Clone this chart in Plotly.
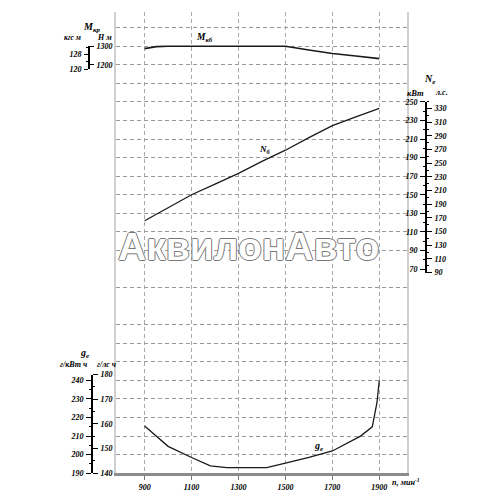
import plotly.graph_objects as go

# ---------------- data ----------------
rpm_torque = [900, 950, 1000, 1100, 1200, 1300, 1400, 1500, 1600, 1700, 1800, 1900]
torque_nm = [1287, 1298, 1300, 1300, 1300, 1300, 1300, 1300, 1280, 1261, 1247, 1233]

rpm_power = [900, 1000, 1100, 1200, 1300, 1400, 1500, 1600, 1700, 1800, 1900]
power_kw = [122, 136, 150, 161.5, 173, 186, 198, 211.5, 224.5, 234, 243]

rpm_fuel = [900, 1000, 1100, 1180, 1250, 1300, 1420, 1500, 1600, 1700, 1820, 1870, 1890, 1900]
fuel_g_kwh = [215.5, 204.5, 198.5, 194, 193, 193, 193, 195.5, 198.5, 202, 210, 215, 228, 240]

x_ticks = [900, 1100, 1300, 1500, 1700, 1900]
nm_ticks = [1200, 1300]
kgf_ticks = [120, 128]
kw_ticks = [70, 90, 110, 130, 150, 170, 190, 210, 230, 250]
hp_ticks = [90, 110, 130, 150, 170, 190, 210, 230, 250, 270, 290, 310, 330]
gkwh_ticks = [190, 200, 210, 220, 230, 240]
ghph_ticks = [140, 150, 160, 170, 180]

KW_TO_HP = 1.35962
NM_PER_KGF = 9.80665

# ---------------- geometry helpers ----------------
OFF = 8  # page body margin
W = H = 500 - 2 * OFF
BOTTOM_PX, TOP_PX = 483, 5
N_GRID = 25
STEP = (BOTTOM_PX - TOP_PX) / N_GRID
U_TOP = (BOTTOM_PX - OFF) / STEP  # visible top of the figure


def fx(px):
    return (px - OFF) / W


def fy(py):
    return 1 - (py - OFF) / H


def ufrac(u):
    # grid unit (0 = bottom) -> paper fraction
    return fy(BOTTOM_PX - u * STEP)


X_DOMAIN = [fx(116), fx(407)]
X_RANGE = [778, 2018]

serif = "Liberation Serif"
tickfont = dict(family=serif, size=8, color="black", style="italic", weight="bold")

fig = go.Figure()

# base grid subplot trace
fig.add_trace(go.Scatter(x=[None], y=[None], yaxis="y", showlegend=False, hoverinfo="skip"))
# dummy traces for the scale spines
for ya in ["y5", "y6", "y7", "y8", "y9", "y10"]:
    fig.add_trace(go.Scatter(x=[None], y=[None], xaxis="x2", yaxis=ya,
                             showlegend=False, hoverinfo="skip"))
# data traces
fig.add_trace(go.Scatter(x=rpm_torque, y=torque_nm, mode="lines", yaxis="y2",
                         line=dict(color="#1a1a1a", width=1.6), showlegend=False, hoverinfo="skip"))
fig.add_trace(go.Scatter(x=rpm_power, y=power_kw, mode="lines", yaxis="y3",
                         line=dict(color="#1a1a1a", width=1.3), showlegend=False, hoverinfo="skip"))
fig.add_trace(go.Scatter(x=rpm_fuel, y=fuel_g_kwh, mode="lines", yaxis="y4",
                         line=dict(color="#1a1a1a", width=1.3), showlegend=False, hoverinfo="skip"))

grid_units = [u for u in range(N_GRID + 1) if u not in (9, 11) and u <= U_TOP]

# value mappings (grid unit -> value)
tq_range = [1300 + (0 - 23) * 100, 1300 + (U_TOP - 23) * 100]
pw_range = [250 + (0 - 20) * 20, 250 + (U_TOP - 20) * 20]
fu_range = [190, 190 + U_TOP * 10]


def spine(rng, dom, side, pos, tickvals, minor_dtick, minor_tick0, ticklen=5):
    d = dict(domain=dom, range=rng, anchor="free", position=pos, side=side,
             showline=True, linecolor="black", linewidth=1.6,
             ticks="outside", ticklen=ticklen, tickwidth=1.4, tickcolor="black",
             tickmode="array", tickvals=tickvals, tickfont=tickfont,
             showgrid=False, zeroline=False, fixedrange=True, ticklabelstandoff=1)
    if minor_dtick:
        d["minor"] = dict(ticks="outside", ticklen=2.5, tickwidth=1.2, tickcolor="black",
                          dtick=minor_dtick, tick0=minor_tick0, showgrid=False)
    return d


# torque spine
nm_lo = 120 * NM_PER_KGF
u_lo = 23 + (nm_lo - 1300) / 100
tq_dom = [ufrac(u_lo), ufrac(23.005)]
nm_rng = [nm_lo, 1300.5]
kgf_rng = [120, 1300.5 / NM_PER_KGF]

# power spine
kw_lo = 90 / KW_TO_HP
pw_dom = [ufrac(20 + (kw_lo - 250) / 20), ufrac(20.01)]
kw_rng = [kw_lo, 250.2]
hp_rng = [90, 250.2 * KW_TO_HP]

# fuel spine
fu_top_u = (BOTTOM_PX - 381.3) / STEP
fu_dom = [ufrac(0), ufrac(fu_top_u)]
gk_rng = [189.95, 190 + fu_top_u * 10]
gh_rng = [139.95, 180.05]

fig.update_layout(
    width=W, height=H, margin=dict(l=0, r=0, t=0, b=0),
    paper_bgcolor="white", plot_bgcolor="rgba(0,0,0,0)", showlegend=False,
    xaxis=dict(domain=X_DOMAIN, range=X_RANGE, tickmode="array", tickvals=x_ticks,
               ticks="outside", ticklen=4, tickcolor="#777", tickwidth=1,
               showline=True, linecolor="#8c8c8c", linewidth=3,
               showgrid=True, gridcolor="#a8a8a8", gridwidth=1, griddash="4px,3px",
               zeroline=False, tickfont=tickfont, fixedrange=True, anchor="y"),
    xaxis2=dict(domain=X_DOMAIN, range=X_RANGE, visible=False, fixedrange=True),
    yaxis=dict(domain=[ufrac(0), 1], range=[0, U_TOP], tickmode="array",
               tickvals=grid_units, showticklabels=False, ticks="",
               showgrid=True, gridcolor="#9a9a9a", gridwidth=1, griddash="4px,3px",
               showline=True, linecolor="#d0d0d0", linewidth=1.5, mirror=True,
               zeroline=False, fixedrange=True),
    yaxis2=dict(overlaying="y", range=tq_range, visible=False, fixedrange=True),
    yaxis3=dict(overlaying="y", range=pw_range, visible=False, fixedrange=True),
    yaxis4=dict(overlaying="y", range=fu_range, visible=False, fixedrange=True),
    yaxis5=spine(nm_rng, tq_dom, "right", fx(89), nm_ticks, None, None, 4),
    yaxis6=spine(kgf_rng, tq_dom, "left", fx(89), kgf_ticks, 4, 0, 4),
    yaxis7=spine(kw_rng, pw_dom, "left", fx(426), kw_ticks, 10, 0),
    yaxis8=spine(hp_rng, pw_dom, "right", fx(426), hp_ticks, 10, 0),
    yaxis9=spine(gk_rng, fu_dom, "left", fx(92), gkwh_ticks, 5, 0),
    yaxis10=spine(gh_rng, fu_dom, "right", fx(92), ghph_ticks, 5, 0),
)


def lab(text, x, y, size=8, xanchor="center"):
    fig.add_annotation(text=text, x=fx(x), y=fy(y), xref="paper", yref="paper",
                       showarrow=False, xanchor=xanchor, yanchor="middle",
                       font=dict(family=serif, size=size, color="black",
                                 style="italic", weight="bold"))


# scale titles
lab("M<sub>кр</sub>", 91, 24, 10)
lab("кгс м", 72, 34, 7.5)
lab("Н м", 104, 34, 8)
lab("N<sub>е</sub>", 429, 78, 10)
lab("кВт", 415, 91, 8.5)
lab("л.с.", 441, 91, 8)
lab("g<sub>е</sub>", 84, 360, 10)
lab("г/кВт ч", 73, 371, 8)
lab("г/лс ч", 106, 371, 8)
lab("n, мин<sup>-1</sup>", 390, 492, 8, "left")

# curve labels (data coordinates)
fig.add_annotation(text="M<sub>кб</sub>", x=1156, y=1348, xref="x", yref="y2", showarrow=False,
                   font=dict(family=serif, size=9.5, color="black", style="italic", weight="bold"))
fig.add_annotation(text="N<sub>б</sub>", x=1411, y=198.3, xref="x", yref="y3", showarrow=False,
                   font=dict(family=serif, size=9, color="black", style="italic", weight="bold"))
fig.add_annotation(text="g<sub>е</sub>", x=1641, y=204.6, xref="x", yref="y4", showarrow=False,
                   font=dict(family=serif, size=10, color="black", style="italic", weight="bold"))

# watermark
fig.add_annotation(text="АквилонАвто", x=fx(248), y=fy(249), xref="paper", yref="paper",
                   showarrow=False,
                   font=dict(family="Liberation Sans", size=39, color="white", weight="bold",
                             shadow="1px 0 0 #777, -1px 0 0 #777, 0 1px 0 #777, 0 -1px 0 #777"))

fig.write_html("out.html")
